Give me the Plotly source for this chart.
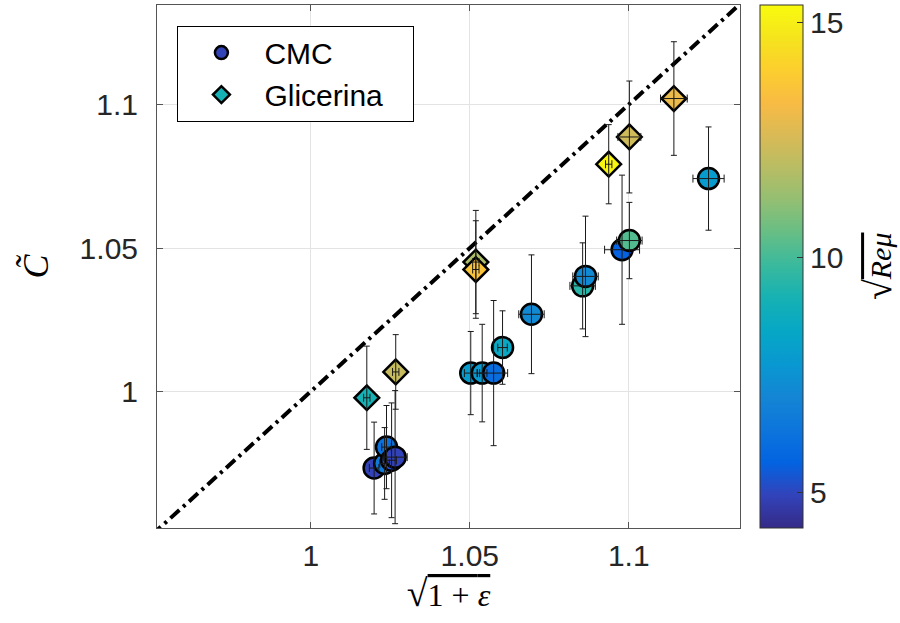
import plotly.graph_objects as go

# ---------------- data ----------------
# CMC series: sqrt(1+eps), C~, errors, sqrt(Re mu)
cmc_x = [1.0199, 1.0232, 1.0238, 1.0254, 1.0265, 1.0503, 1.0539, 1.0575,
         1.0603, 1.0694, 1.0855, 1.0864, 1.0979, 1.1002, 1.1251]
cmc_y = [0.9733, 0.9749, 0.9806, 0.9760, 0.9771, 1.0064, 1.0064, 1.0064,
         1.0153, 1.0269, 1.0368, 1.0401, 1.0494, 1.0526, 1.0742]
cmc_ex = [0.0015, 0.0015, 0.0015, 0.0015, 0.0038, 0.0020, 0.0015, 0.0044,
          0.0015, 0.0040, 0.0040, 0.0040, 0.0055, 0.0040, 0.0049]
cmc_ey = [0.0160, 0.0125, 0.0145, 0.0200, 0.0232, 0.0145, 0.0170, 0.0253,
          0.0128, 0.0207, 0.0150, 0.0210, 0.0260, 0.0133, 0.0180]
cmc_c = [4.9, 6.5, 6.2, 5.1, 4.9, 7.9, 7.8, 6.0,
         8.5, 7.2, 9.5, 7.2, 5.6, 10.2, 7.9]

gli_x = [1.0176, 1.0267, 1.0519, 1.0519, 1.0937, 1.1002, 1.1142]
gli_y = [0.9978, 1.0068, 1.0451, 1.0425, 1.0792, 1.0887, 1.1021]
gli_ex = [0.0010, 0.0010, 0.0010, 0.0010, 0.0010, 0.0036, 0.0042]
gli_ey = [0.0180, 0.0130, 0.0180, 0.0170, 0.0138, 0.0195, 0.0198]
gli_c = [9.1, 12.2, 11.7, 13.6, 15.2, 12.4, 13.0]

diag = [0.95, 1.14]

x_ticks = [1.0, 1.05, 1.1]
x_ticktext = ["1", "1.05", "1.1"]
y_ticks = [1.0, 1.05, 1.1]
y_ticktext = ["1", "1.05", "1.1"]
cb_ticks = [5, 10, 15]
c_min, c_max = 4.234, 15.375

# MATLAB parula (subsampled)
parula_rgb = [
    (0.2081, 0.1663, 0.5292), (0.1959, 0.2645, 0.7279), (0.0117, 0.3875, 0.8820),
    (0.0498, 0.4586, 0.8641), (0.0793, 0.5200, 0.8312), (0.0343, 0.5966, 0.8199),
    (0.0228, 0.6535, 0.7768), (0.0843, 0.6928, 0.7062), (0.2178, 0.7250, 0.6193),
    (0.3953, 0.7459, 0.5244), (0.5709, 0.7485, 0.4494), (0.7184, 0.7411, 0.3905),
    (0.8507, 0.7299, 0.3360), (0.9739, 0.7314, 0.2666), (0.9880, 0.8066, 0.1794),
    (0.9589, 0.8949, 0.1132), (0.9763, 0.9831, 0.0538)]
n = len(parula_rgb)
parula = [[i / (n - 1), "rgb(%d,%d,%d)" % tuple(round(255 * v) for v in c)]
          for i, c in enumerate(parula_rgb)]


def parula_color(v):
    f = min(max((v - c_min) / (c_max - c_min), 0), 1) * (n - 1)
    i = min(int(f), n - 2)
    t = f - i
    c = [parula_rgb[i][k] * (1 - t) + parula_rgb[i + 1][k] * t for k in range(3)]
    return "rgb(%d,%d,%d)" % tuple(round(255 * v) for v in c)


FONT = "Liberation Sans, Arial, sans-serif"
SERIF = "Liberation Serif, DejaVu Serif, serif"
ERRC = "#1a1a1a"

fig = go.Figure()

# diagonal y = x
fig.add_trace(go.Scatter(x=diag, y=diag, mode="lines", showlegend=False,
                         line=dict(color="black", width=4, dash="12px,5px,3px,5px"),
                         hoverinfo="skip"))

fig.add_trace(go.Scatter(
    x=cmc_x, y=cmc_y, mode="markers", name="CMC", showlegend=False,
    marker=dict(symbol="circle", size=21, color=cmc_c, coloraxis="coloraxis",
                line=dict(color="black", width=2.5))))
fig.add_trace(go.Scatter(
    x=gli_x, y=gli_y, mode="markers", name="Glicerina", showlegend=False,
    marker=dict(symbol="diamond", size=19, color=gli_c, coloraxis="coloraxis",
                line=dict(color="black", width=2.5))))

# legend entries (colour of first point of each series)
fig.add_trace(go.Scatter(
    x=[None], y=[None], mode="markers", name="CMC\u00a0\u00a0\u00a0",
    marker=dict(symbol="circle", size=13, color=parula_color(cmc_c[0]),
                line=dict(color="black", width=2.5))))
fig.add_trace(go.Scatter(
    x=[None], y=[None], mode="markers", name="Glicerina\u00a0\u00a0\u00a0",
    marker=dict(symbol="diamond", size=13, color=parula_color(gli_c[0]),
                line=dict(color="black", width=2.5))))

# error bars drawn on top of markers
for xs, ys, ex, ey in [(cmc_x, cmc_y, cmc_ex, cmc_ey), (gli_x, gli_y, gli_ex, gli_ey)]:
    fig.add_trace(go.Scatter(
        x=xs, y=ys, mode="markers", showlegend=False, hoverinfo="skip",
        marker=dict(size=1, color="rgba(0,0,0,0)"),
        error_x=dict(type="data", array=ex, color=ERRC, thickness=1, width=4),
        error_y=dict(type="data", array=ey, color=ERRC, thickness=1, width=3)))

axis_common = dict(
    showline=True, linecolor="#555", linewidth=1, mirror="allticks",
    ticks="inside", ticklen=6, tickcolor="#555",
    showgrid=True, gridcolor="#e3e3e3", gridwidth=1, zeroline=False,
    tickfont=dict(family=FONT, size=30, color="#262626"),
)

SQRT = "<span style='font-size:38px'>\u221a</span>"

fig.update_layout(
    width=900, height=623,
    margin=dict(l=157, r=160, t=5, b=95, autoexpand=False),
    paper_bgcolor="white", plot_bgcolor="white",
    xaxis=dict(range=[0.9516, 1.135], tickvals=x_ticks, ticktext=x_ticktext,
               ticklabelstandoff=1,
               title=dict(text=SQRT + "<span style='text-decoration:overline'>1 + <i>\u03b5</i></span>",
                          font=dict(family=SERIF, size=32, color="black"), standoff=4),
               **axis_common),
    yaxis=dict(range=[0.9524, 1.1347], tickvals=y_ticks, ticktext=y_ticktext,
               ticklabelstandoff=12,
               title=dict(text="<i>C\u0303</i>", font=dict(family=SERIF, size=36, color="black"),
                          standoff=20),
               **axis_common),
    coloraxis=dict(
        colorscale=parula, cmin=c_min, cmax=c_max,
        colorbar=dict(
            thickness=43, thicknessmode="pixels", len=1, lenmode="fraction",
            x=1.035, xanchor="left", y=0.5, yanchor="middle", xpad=0, ypad=0,
            outlinewidth=1, outlinecolor="#333",
            ticks="inside", ticklen=6, tickcolor="#333",
            tickvals=cb_ticks, tickfont=dict(family=FONT, size=30, color="#262626"),
        )),
    legend=dict(x=0.035, y=0.9606, xanchor="left", yanchor="top",
                bgcolor="white", bordercolor="black", borderwidth=1,
                font=dict(family=FONT, size=30, color="black"),
                itemsizing="trace", itemwidth=76, tracegroupgap=0),
    annotations=[dict(
        text=SQRT + "<span style='text-decoration:overline'><i>Re\u03bc</i></span>",
        xref="paper", yref="paper", x=1.236, y=0.5, xanchor="center", yanchor="middle",
        textangle=-90, showarrow=False, font=dict(family=SERIF, size=30, color="black"))],
)

fig.write_html("out.html")
